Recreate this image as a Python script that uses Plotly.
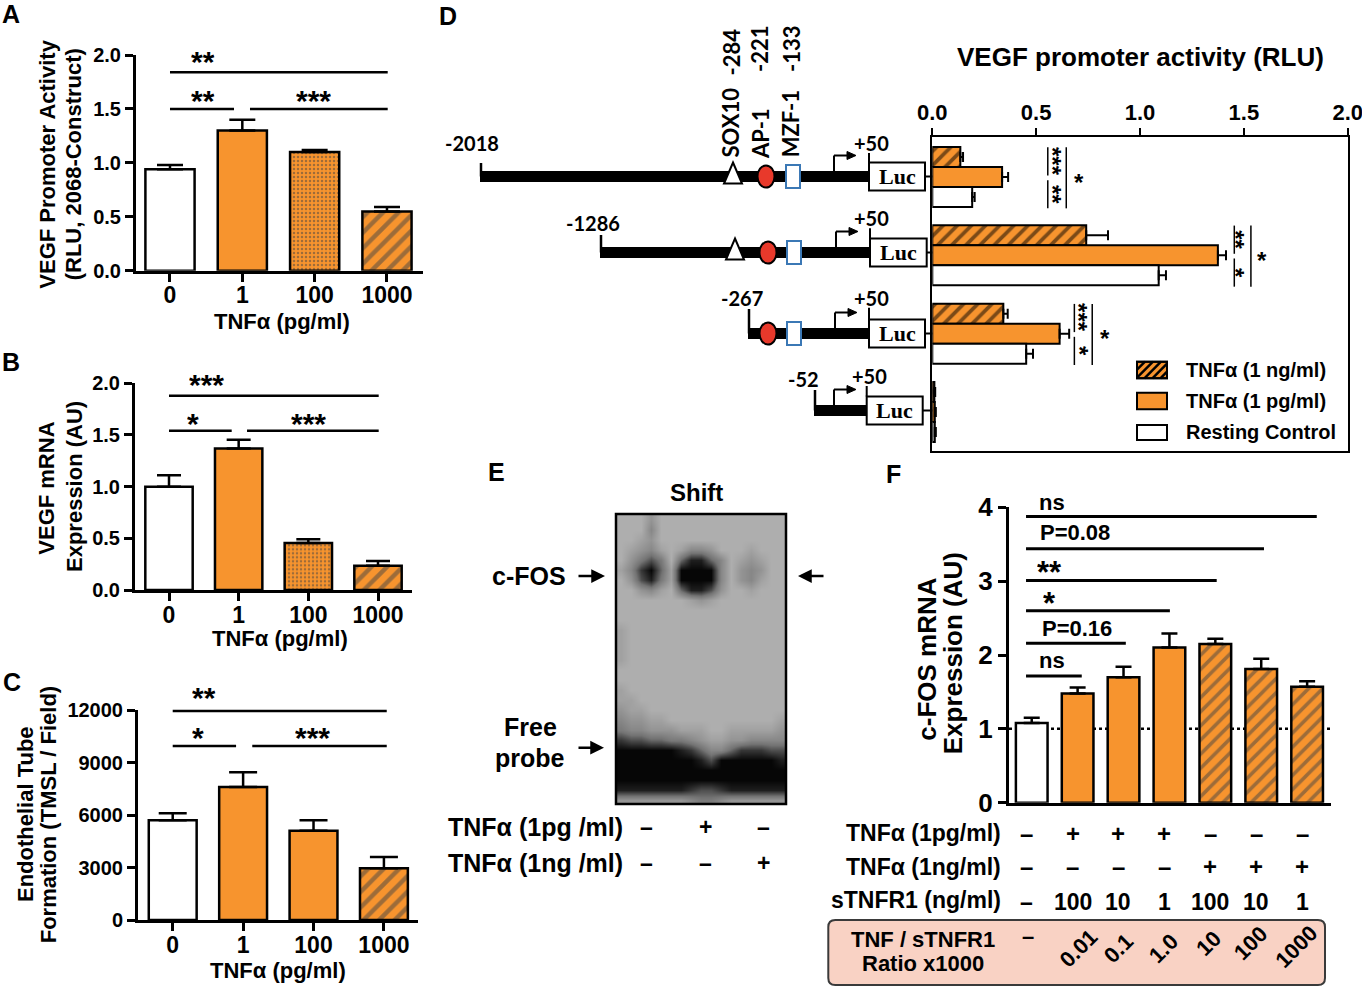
import plotly.graph_objects as go

W, H = 1362, 987
ORANGE = '#F7942E'
SANS = 'Liberation Sans'

# ---------------- data ----------------
dose_labels = ['0', '1', '100', '1000']
a_values = [0.94, 1.30, 1.10, 0.55]
a_errors = [0.04, 0.10, 0.02, 0.04]
b_values = [1.00, 1.37, 0.455, 0.235]
b_errors = [0.11, 0.085, 0.035, 0.045]
c_values = [5700, 7600, 5100, 2950]
c_errors = [400, 850, 600, 650]

d_constructs = ['-2018', '-1286', '-267', '-52']
d_tnf_ng = [0.135, 0.741, 0.342, 0.010]
d_tnf_ng_err = [0.013, 0.105, 0.021, 0.004]
d_tnf_pg = [0.336, 1.375, 0.613, 0.012]
d_tnf_pg_err = [0.029, 0.039, 0.046, 0.005]
d_ctrl = [0.192, 1.090, 0.452, 0.012]
d_ctrl_err = [0.012, 0.035, 0.033, 0.005]

e_tnf_pg = ['–', '+', '–']
e_tnf_ng = ['–', '–', '+']
# gel darkness (0 = background, 9 = black), rows top->bottom, read from the blot
gel_rows = [
    "00020000000000000",
    "00030000000000000",
    "00120000000000000",
    "01231013320001000",
    "02464058853012100",
    "13795199993023200",
    "02684199993023100",
    "00231058862001000",
    "00000001210000000",
    "00000000000000000",
    "00000000000000000",
    "10000000000000000",
    "10000000000000000",
    "10000000000000000",
    "10000000000000000",
    "00000000000000000",
    "00000000000000000",
    "10000000000000000",
    "11000000000000000",
    "21100000000000000",
    "32211000000000001",
    "43322211100111112",
    "76655443211223333",
    "99999987533577766",
    "99999999869999998",
    "99999999999999999",
    "99999999999999999",
    "88888887667888888",
    "22222223443222222",
]

f_values = [1.08, 1.48, 1.70, 2.10, 2.15, 1.81, 1.57]
f_errors = [0.07, 0.08, 0.14, 0.19, 0.07, 0.14, 0.075]
f_tnf_pg = ['–', '+', '+', '+', '–', '–', '–']
f_tnf_ng = ['–', '–', '–', '–', '+', '+', '+']
f_stnfr1 = ['–', '100', '10', '1', '100', '10', '1']
f_ratio = ['–', '0.01', '0.1', '1.0', '10', '100', '1000']

# significance: (x0, x1, y, label, label_x, label_y)
a_sig = [(0, 3.01, 1.84, '**', 0.46, 2.0), (0, 0.885, 1.50, '**', 0.46, 1.63), (1.106, 3.01, 1.50, '***', 1.99, 1.63)]
b_sig = [(0, 3.01, 1.88, '***', 0.545, 2.05), (0, 0.90, 1.54, '*', 0.345, 1.67), (1.12, 3.01, 1.54, '***', 2.0, 1.67)]
c_sig = [(0, 3.04, 11950, '**', 0.445, 13030), (0, 0.90, 9950, '*', 0.36, 10800), (1.13, 3.04, 9950, '***', 1.99, 10800)]
f_sig = [(-0.124, 6.21, 3.875, 'ns', 0.436, 4.07), (-0.124, 5.06, 3.44, 'P=0.08', 0.94, 3.66),
         (-0.124, 4.03, 3.01, '**', 0.377, 3.2), (-0.124, 3.01, 2.60, '*', 0.377, 2.79),
         (-0.124, 2.05, 2.16, 'P=0.16', 0.98, 2.36), (-0.124, 1.09, 1.717, 'ns', 0.45, 1.92)]
# D brackets: (group, inner_x, inner_star_x, outer_x, outer_star_x, label_top, label_bottom)
d_sig = [(0, 0.556, 0.602, 0.645, 0.707, '***', '**'),
         (1, 1.454, 1.484, 1.534, 1.589, '**', '*'),
         (2, 0.684, 0.730, 0.770, 0.831, '***', '*')]

# ---------------- layout geometry (pixels) ----------------
P = {
    'A': dict(xd=(136, 423), yd=(55, 270.7), xr=(-0.47, 3.498), yr=(0, 2)),
    'B': dict(xd=(135, 412), yd=(383.3, 590), xr=(-0.488, 3.488), yr=(0, 2)),
    'C': dict(xd=(138, 418), yd=(710, 920), xr=(-0.493, 3.484), yr=(0, 12000)),
    'D': dict(xd=(932.3, 1347.7), yd=(137.3, 450.7), xr=(0, 2), yr=(3.494, -0.507)),
    'E': dict(xd=(616, 786), yd=(514, 804), xr=(616, 786), yr=(804, 514)),
    'F': dict(xd=(1009, 1331), yd=(507.3, 802.7), xr=(-0.495, 6.52), yr=(0, 4)),
}


def to_px(p, xv, yv):
    q = P[p]
    x0, x1 = q['xd']; r0, r1 = q['xr']
    ytop, ybot = q['yd']; s0, s1 = q['yr']
    return x0 + (xv - r0) / (r1 - r0) * (x1 - x0), ybot - (yv - s0) / (s1 - s0) * (ybot - ytop)


def dom(p):
    q = P[p]
    return [q['xd'][0] / W, q['xd'][1] / W], [1 - q['yd'][1] / H, 1 - q['yd'][0] / H]


shapes = []
annotations = []


def L(x0, y0, x1, y1, w=2.5, color='black', dash=None):
    shapes.append(dict(type='line', xref='paper', yref='paper', x0=x0 / W, y0=1 - y0 / H, x1=x1 / W, y1=1 - y1 / H,
                       line=dict(color=color, width=w, dash=dash)))


def R(x0, y0, x1, y1, fill='white', lw=2, lc='black'):
    shapes.append(dict(type='rect', xref='paper', yref='paper', x0=x0 / W, y0=1 - y0 / H, x1=x1 / W, y1=1 - y1 / H,
                       fillcolor=fill, line=dict(width=lw, color=lc)))


def C(x0, y0, x1, y1, fill='white', lw=2, lc='black'):
    shapes.append(dict(type='circle', xref='paper', yref='paper', x0=x0 / W, y0=1 - y0 / H, x1=x1 / W, y1=1 - y1 / H,
                       fillcolor=fill, line=dict(width=lw, color=lc)))


def PATH(pts, fill='black', lw=1, lc='black', close=True):
    d = 'M ' + ' L '.join('%f,%f' % (x / W, 1 - y / H) for x, y in pts) + (' Z' if close else '')
    shapes.append(dict(type='path', xref='paper', yref='paper', path=d, fillcolor=fill, line=dict(width=lw, color=lc)))


def T(x, y, text, size, family=SANS, weight='bold', xanchor='center', yanchor='middle', angle=0, color='black',
      **extra):
    ann = dict(xref='paper', yref='paper', x=x / W, y=1 - y / H, text=text, showarrow=False,
               xanchor=xanchor, yanchor=yanchor, textangle=angle, borderpad=0,
               font=dict(size=size, family=family, weight=weight, color=color))
    ann.update(extra)
    annotations.append(ann)


def ARROW(xhead, y, dx, w=2.5):
    annotations.append(dict(xref='paper', yref='paper', x=xhead / W, y=1 - y / H, ax=dx, ay=0, text='',
                            showarrow=True, arrowhead=2, arrowsize=1.1, arrowwidth=w, arrowcolor='black'))


def star_text(x, y, text, size):
    # asterisks sit in the upper part of the line box: use a compact, top-aligned box around the glyphs
    if set(text) == {'*'}:
        T(x, y, text, size, height=round(0.7 * size), valign='top')
    else:
        T(x, y, text, size)


fig = go.Figure()

axis_common = dict(showline=True, linewidth=3, linecolor='black', ticks='outside', ticklen=8, tickwidth=3,
                   tickcolor='black', showgrid=False, zeroline=False, automargin=False)

# ---------------- panels A, B, C ----------------
for key, vals, errs, shp, ytv, ytt, cap, xa, ya, sig in [
    ('A', a_values, a_errors, ['', '', '.', '/'], [0, 0.5, 1.0, 1.5, 2.0], ['0.0', '0.5', '1.0', '1.5', '2.0'], 13, 'x', 'y', a_sig),
    ('B', b_values, b_errors, ['', '', '.', '/'], [0, 0.5, 1.0, 1.5, 2.0], ['0.0', '0.5', '1.0', '1.5', '2.0'], 12, 'x2', 'y2', b_sig),
    ('C', c_values, c_errors, ['', '', '', '/'], [0, 3000, 6000, 9000, 12000], ['0', '3000', '6000', '9000', '12000'], 14, 'x3', 'y3', c_sig),
]:
    fig.add_trace(go.Bar(
        x=list(range(len(vals))), y=vals, width=0.68, xaxis=xa, yaxis=ya,
        marker=dict(color=['white', ORANGE, ORANGE, ORANGE], line=dict(color='black', width=2.5),
                    pattern=dict(shape=shp, fgcolor='black', bgcolor=['white', ORANGE, ORANGE, ORANGE],
                                 size=[10, 10, 4, 11], solidity=[0.3, 0.3, 0.3, 0.4])),
        error_y=dict(type='data', array=errs, arrayminus=[0] * len(errs), symmetric=False,
                     color='black', thickness=2.5, width=cap),
        showlegend=False, hoverinfo='skip'))
    xd, yd = dom(key)
    n = '' if xa == 'x' else xa[1:]
    fig.layout['xaxis' + n] = dict(axis_common, domain=xd, range=list(P[key]['xr']), anchor=ya,
                                   tickvals=list(range(4)), ticktext=dose_labels, tickfont=dict(size=23),
                                   ticklabelstandoff=-6)
    fig.layout['yaxis' + n] = dict(axis_common, domain=yd, range=list(P[key]['yr']), anchor=xa,
                                   tickvals=ytv, ticktext=ytt, tickfont=dict(size=20))
    for x0, x1, yv, lab, lx, ly in sig:
        px0, py0 = to_px(key, x0, yv)
        px1, _ = to_px(key, x1, yv)
        L(px0, py0, px1, py0, w=2.5)
        tx, ty = to_px(key, lx, ly)
        star_text(tx, ty, lab, 30)

# axis titles A-C
T(281.7, 321.7, 'TNFα (pg/ml)', 22)
T(280, 638.3, 'TNFα (pg/ml)', 22)
T(278.3, 970, 'TNFα (pg/ml)', 22)
T(46.7, 164, 'VEGF Promoter Activity', 22, angle=-90)
T(73.3, 164, '(RLU, 2068-Construct)', 22, angle=-90)
T(46.7, 488, 'VEGF mRNA', 22, angle=-90)
T(75, 487, 'Expression (AU)', 22, angle=-90)
T(25, 814, 'Endothelial Tube', 22, angle=-90)
T(48.3, 815, 'Formation (TMSL / Field)', 22, angle=-90)

# ---------------- panel D bars ----------------
for vals, errs, shape, col in [(d_tnf_ng, d_tnf_ng_err, '/', ORANGE), (d_tnf_pg, d_tnf_pg_err, '', ORANGE),
                               (d_ctrl, d_ctrl_err, '', 'white')]:
    fig.add_trace(go.Bar(
        y=list(range(len(vals))), x=vals, orientation='h', xaxis='x4', yaxis='y4',
        marker=dict(color=col, line=dict(color='black', width=2),
                    pattern=dict(shape=shape, fgcolor='black', bgcolor=col, size=10, solidity=0.38)),
        error_x=dict(type='data', array=errs, arrayminus=[0] * len(errs), symmetric=False,
                     color='black', thickness=2, width=5),
        showlegend=False, hoverinfo='skip'))
xd, yd = dom('D')
fig.layout.xaxis4 = dict(showline=True, linewidth=2, linecolor='black', mirror=True, side='top', ticks='outside',
                         ticklen=7, tickwidth=2, tickcolor='black', showgrid=False, zeroline=False, automargin=False,
                         domain=xd, range=[0, 2], anchor='y4', tickvals=[0, 0.5, 1.0, 1.5, 2.0],
                         ticktext=['0.0', '0.5', '1.0', '1.5', '2.0'], tickfont=dict(size=22),
                         ticklabeloverflow='allow')
fig.layout.yaxis4 = dict(showline=True, linewidth=2, linecolor='black', mirror=True, ticks='', showgrid=False,
                         zeroline=False, showticklabels=False, domain=yd, range=list(P['D']['yr']), anchor='x4',
                         automargin=False)
T(1140, 57, 'VEGF promoter activity (RLU)', 26)

for g, ix, isx, ox, osx, lt, lb in d_sig:
    pxi, ya0 = to_px('D', ix, g - 0.38)
    _, ya1 = to_px('D', ix, g - 0.02)
    _, yb0 = to_px('D', ix, g + 0.04)
    _, yb1 = to_px('D', ix, g + 0.40)
    L(pxi, ya0, pxi, ya1, w=1.5)
    L(pxi, yb0, pxi, yb1, w=1.5)
    pxo, _ = to_px('D', ox, 0)
    L(pxo, ya0, pxo, yb1, w=1.5)
    sx, _ = to_px('D', isx, 0)
    T(sx - 5, (ya0 + ya1) / 2, lt, 24, angle=90)
    T(sx - 5, (yb0 + yb1) / 2, lb, 24, angle=90)
    ssx, sy = to_px('D', osx, g)
    T(ssx, sy + 5, '*', 24)

# legend of D
legend_items = [('TNFα (1 ng/ml)', ORANGE, True, 361.7, 378.3),
                ('TNFα (1 pg/ml)', ORANGE, False, 392.7, 409.3),
                ('Resting Control', 'white', False, 425, 440)]
for lab, col, hatch, y0, y1 in legend_items:
    R(1137, y0, 1167, y1, fill=col, lw=2)
    if hatch:
        h = y1 - y0
        s = 1137 - h
        while s < 1167:
            t0 = max(0, (1137 - s) / h); t1 = min(1, (1167 - s) / h)
            if t1 > t0:
                L(s + t0 * h, y1 - t0 * h, s + t1 * h, y1 - t1 * h, w=2.5)
            s += 8
        R(1137, y0, 1167, y1, fill='rgba(0,0,0,0)', lw=2)
    T(1185, (y0 + y1) / 2, lab, 20, xanchor='left')

# promoter constructs diagram
diag = [
    dict(x=480, y=176.5, lbl=(471.7, 143), tick_top=163, sox=733, ap1=766, mzf=793, arr=834, luc=(869, 925), p50=(871.7, 143)),
    dict(x=600, y=252.5, lbl=(593, 222.7), tick_top=235, sox=735, ap1=768, mzf=794, arr=836, luc=(870, 926.7), p50=(871.7, 218.3)),
    dict(x=748, y=333.5, lbl=(741.7, 297.7), tick_top=309, sox=None, ap1=768, mzf=794, arr=835, luc=(869, 925), p50=(871.7, 297.7)),
    dict(x=814, y=410.5, lbl=(803.3, 379.3), tick_top=390, sox=None, ap1=None, mzf=None, arr=834, luc=(866.7, 922.7), p50=(869.3, 376)),
]
for name, c in zip(d_constructs, diag):
    y = c['y']
    R(c['x'], y - 5.5, c['luc'][0], y + 5.5, fill='black', lw=0, lc='black')
    L(c['x'] + 1, c['tick_top'], c['x'] + 1, y, w=2.5)
    T(c['lbl'][0], c['lbl'][1], name, 20, family='Lato')
    T(c['p50'][0], c['p50'][1], '+50', 20, family='Lato')
    L(c['luc'][0], c['p50'][1] + 10, c['luc'][0], y - 14, w=2)
    L(c['arr'], y - 5, c['arr'], y - 21, w=2)
    L(c['arr'], y - 21, c['arr'] + 15, y - 21, w=2)
    PATH([(c['arr'] + 13, y - 25), (c['arr'] + 22, y - 21), (c['arr'] + 13, y - 17)], fill='black', lw=1)
    if c['sox']:
        PATH([(c['sox'], y - 14), (c['sox'] + 9, y + 7), (c['sox'] - 9, y + 7)], fill='white', lw=2)
    if c['ap1']:
        C(c['ap1'] - 8.5, y - 11, c['ap1'] + 8.5, y + 11, fill='#E8392B', lw=2)
    if c['mzf']:
        R(c['mzf'] - 7, y - 11.5, c['mzf'] + 7, y + 11.5, fill='white', lw=2, lc='#3B78B5')
    R(c['luc'][0], y - 14, c['luc'][1], y + 14, fill='white', lw=2)
    T((c['luc'][0] + c['luc'][1]) / 2, y, 'Luc', 22, family='Liberation Serif')
    L(c['luc'][1], y, 932.3, y, w=2)

T(730, 122.5, 'SOX10', 22, family='Lato', angle=-90)
T(731.7, 51.7, '-284', 22, family='Lato', angle=-90)
T(760, 134, 'AP-1', 22, family='Lato', angle=-90)
T(760, 49, '-221', 22, family='Lato', angle=-90)
T(790, 123.3, 'MZF-1', 22, family='Lato', angle=-90)
T(791.7, 48.3, '-133', 22, family='Lato', angle=-90)

# ---------------- panel E gel ----------------
gel_z = [[int(ch) for ch in row] for row in gel_rows]
fig.add_trace(go.Heatmap(
    z=gel_z, x=[621 + 10 * i for i in range(len(gel_rows[0]))], y=[520 + 10 * j for j in range(len(gel_rows))],
    xaxis='x5', yaxis='y5', zmin=0, zmax=9, zsmooth='best', showscale=False, hoverinfo='skip',
    colorscale=[[0, 'rgb(174,174,174)'], [0.5, 'rgb(115,115,115)'], [1, 'rgb(6,6,6)']]))
xd, yd = dom('E')
fig.layout.xaxis5 = dict(domain=xd, range=list(P['E']['xr']), visible=False, anchor='y5', automargin=False)
fig.layout.yaxis5 = dict(domain=yd, range=list(P['E']['yr']), visible=False, anchor='x5', automargin=False)
R(616, 514, 786, 804, fill='rgba(0,0,0,0)', lw=2.5)
T(696.7, 492.7, 'Shift', 24)
T(529, 576, 'c-FOS', 25)
ARROW(605, 576, -28)
ARROW(798, 576, 27)
T(530, 726.7, 'Free', 25)
T(530, 758.3, 'probe', 25)
ARROW(604, 747.7, -27)
T(624, 826.7, 'TNFα (1pg /ml)', 25, xanchor='right')
T(624, 863.3, 'TNFα (1ng /ml)', 25, xanchor='right')
for xx, s1, s2 in zip([646, 705, 763.3], e_tnf_pg, e_tnf_ng):
    T(xx, 826.7, s1, 23)
    T(xx, 863.3, s2, 23)

# ---------------- panel F ----------------
f_cols = ['white'] + [ORANGE] * 6
f_shapes = ['', '', '', '', '/', '/', '/']
fig.add_trace(go.Bar(
    x=list(range(len(f_values))), y=f_values, width=0.69, xaxis='x6', yaxis='y6',
    marker=dict(color=f_cols, line=dict(color='black', width=2.5),
                pattern=dict(shape=f_shapes, fgcolor='black', bgcolor=f_cols, size=10, solidity=0.36)),
    error_y=dict(type='data', array=f_errors, arrayminus=[0] * len(f_errors), symmetric=False,
                 color='black', thickness=2.5, width=8),
    showlegend=False, hoverinfo='skip'))
xd, yd = dom('F')
fig.layout.xaxis6 = dict(axis_common, domain=xd, range=list(P['F']['xr']), anchor='y6', ticks='',
                         showticklabels=False)
fig.layout.yaxis6 = dict(axis_common, domain=yd, range=[0, 4], anchor='x6', tickvals=[0, 1, 2, 3, 4],
                         tickfont=dict(size=26))
shapes.append(dict(type='line', xref='x6', yref='y6', x0=-0.495, x1=6.52, y0=1, y1=1, layer='below',
                   line=dict(color='black', width=2.5, dash='dot')))
for x0, x1, yv, lab, lx, ly in f_sig:
    px0, py0 = to_px('F', x0, yv)
    px1, _ = to_px('F', x1, yv)
    L(px0, py0, px1, py0, w=3)
    tx, ty = to_px('F', lx, ly)
    if set(lab) == {'*'}:
        star_text(tx, ty, lab, 31)
    else:
        T(tx, ty, lab, 22)
T(926.7, 659, 'c-FOS mRNA', 26, angle=-90)
T(953.3, 653, 'Expression (AU)', 26, angle=-90)

T(1001.7, 833.3, 'TNFα (1pg/ml)', 23, xanchor='right')
T(1001.7, 866.7, 'TNFα (1ng/ml)', 23, xanchor='right')
T(1001.7, 900, 'sTNFR1 (ng/ml)', 23, xanchor='right')
for i in range(len(f_values)):
    xx, _ = to_px('F', i - 0.11, 0)
    T(xx, 833.3, f_tnf_pg[i], 24)
    T(xx, 866.7, f_tnf_ng[i], 24)
    T(xx, 902, f_stnfr1[i], 23)

# ratio box
x0b, y0b, x1b, y1b, rr = 828.3, 920, 1325, 985, 7
box = ('M {a},{b} L {c},{b} Q {d},{b} {d},{e} L {d},{f} Q {d},{g} {c},{g} L {a},{g} Q {h},{g} {h},{f} '
       'L {h},{e} Q {h},{b} {a},{b} Z').format(
    a=(x0b + rr) / W, b=1 - y0b / H, c=(x1b - rr) / W, d=x1b / W, e=1 - (y0b + rr) / H,
    f=1 - (y1b - rr) / H, g=1 - y1b / H, h=x0b / W)
shapes.append(dict(type='path', xref='paper', yref='paper', path=box, fillcolor='#F9D2C4',
                   line=dict(color='#3a3a3a', width=2), layer='below'))
T(923.3, 939.3, 'TNF / sTNFR1', 22)
T(923.3, 963.3, 'Ratio x1000', 22)
ratio_xy = [(1028.3, 936.7), (1078.3, 948.3), (1118.3, 948.3), (1163.3, 948.3), (1208.3, 943), (1250, 943), (1296.7, 946.7)]
for lab, (xx, yy) in zip(f_ratio, ratio_xy):
    T(xx, yy, lab, 22, angle=0 if lab == '–' else -45)

# panel letters
for letter, xx, yy in [('A', 11, 14), ('B', 11, 362), ('C', 12, 682), ('D', 448, 16), ('E', 496, 472), ('F', 893, 474)]:
    T(xx, yy, letter, 25)

fig.update_layout(
    width=W, height=H, margin=dict(l=0, r=0, t=0, b=0, pad=0, autoexpand=False),
    paper_bgcolor='white', plot_bgcolor='rgba(0,0,0,0)',
    font=dict(family=SANS, size=20, color='black', weight='bold'),
    barmode='group', bargap=0.234, bargroupgap=0, showlegend=False,
    shapes=shapes, annotations=annotations)

fig.write_html('out.html', config={'displayModeBar': False},
               post_script="document.body.style.margin='0';")
